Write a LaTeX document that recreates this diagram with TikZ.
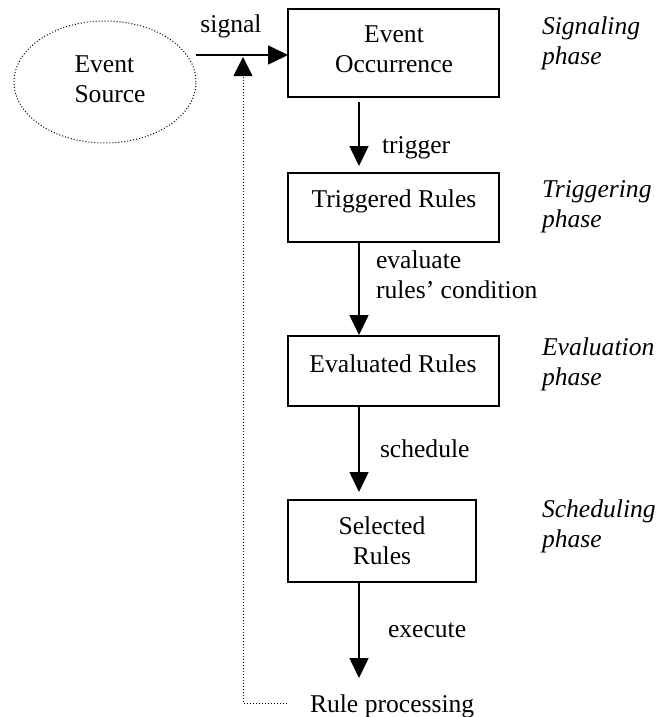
\documentclass[tikz,border=0pt]{standalone}
\usepackage{fontspec}
\setmainfont{Liberation Serif}
\usetikzlibrary{arrows.meta,shapes.geometric}
\begin{document}
\begin{tikzpicture}[x=1pt,y=-1pt,
  every node/.style={inner sep=0pt, outer sep=0pt, font=\fontsize{25.6}{30}\selectfont},
  box/.style={draw, line width=1.2pt, rectangle},
  txt/.style={align=center},
  lab/.style={anchor=west, align=left},
  phase/.style={anchor=west, align=left, font=\fontsize{25.6}{30}\selectfont\itshape},
  arr/.style={line width=1.6pt, -{Triangle[length=20pt,width=19pt]}},
  fb/.style={line width=1pt, dotted, -{Triangle[length=19pt,width=19pt]}},
]
\useasboundingbox (0,0) rectangle (665,717);

% event source
\node[ellipse, draw, dotted, line width=1pt, minimum width=182pt, minimum height=122pt] (src) at (105,82) {};
\node[lab] (srct) at (74.5,81) {Event\strut\\Source\strut};

% boxes
\node[box, minimum width=211pt, minimum height=88pt] (occ) at (393.5,53) {};
\node[txt] (occt) at (394,52) {Event\strut\\Occurrence\strut};
\node[box, minimum width=211pt, minimum height=69pt] (trig) at (393.5,207.5) {};
\node[txt] (trigt) at (394,201) {Triggered Rules\strut};
\node[box, minimum width=211pt, minimum height=70pt] (eval) at (393.5,371) {};
\node[txt] (evalt) at (393,366) {Evaluated Rules\strut};
\node[box, minimum width=188pt, minimum height=82pt] (sel) at (382,541) {};
\node[txt] (selt) at (382,543) {Selected\strut\\Rules\strut};

% connector labels
\node[txt] (sig) at (231,27) {signal\strut};
\node[lab] (trg) at (382,147) {trigger\strut};
\node[lab] (evl) at (376,277) {evaluate\strut\\rules’ condition\strut};
\node[lab] (sch) at (380,451) {schedule\strut};
\node[lab] (exe) at (388,631) {execute\strut};
\node[lab] (rp) at (310,706) {Rule processing\strut};

% phases
\node[phase] (p1) at (542,44) {Signaling\strut\\phase\strut};
\node[phase] (p2) at (542,206) {Triggering\strut\\phase\strut};
\node[phase] (p3) at (542,364) {Evaluation\strut\\phase\strut};
\node[phase] (p4) at (542,526) {Scheduling\strut\\phase\strut};

% connectors
\coordinate (ax) at (359,0);
\coordinate (sy) at (0,55);
\coordinate (exend) at (359,678);
\coordinate (fbtip) at (243,57);

\draw[arr] (src.east |- sy) -- (occ.west |- sy);
\draw[arr, shorten <=5pt, shorten >=7pt] (occ.south -| ax) -- (trig.north -| ax);
\draw[arr, shorten >=1pt] (trig.south -| ax) -- (eval.north -| ax);
\draw[arr, shorten >=8pt] (eval.south -| ax) -- (sel.north -| ax);
\draw[arr] (sel.south -| ax) -- (exend);
\draw[fb] ([xshift=-23pt,yshift=3pt]rp.west) -| (fbtip);
\end{tikzpicture}
\end{document}
